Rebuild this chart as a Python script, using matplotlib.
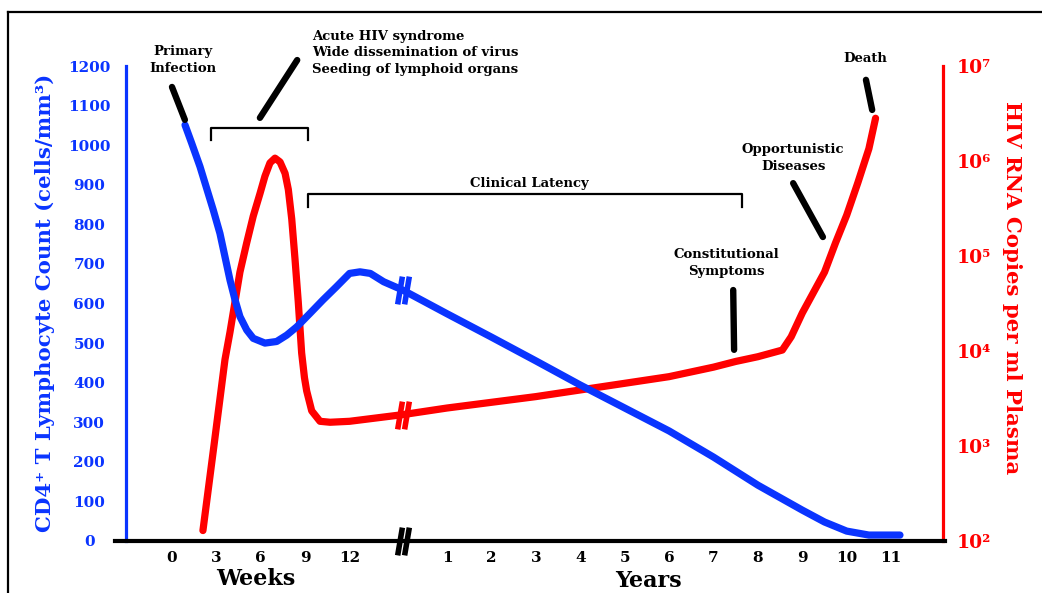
import numpy as np
import matplotlib
matplotlib.use("Agg")
import matplotlib.pyplot as plt
from matplotlib.path import Path
from matplotlib.lines import Line2D

# ---------------- data ----------------
week_ticks = [0, 3, 6, 9, 12]
year_ticks = [1, 2, 3, 4, 5, 6, 7, 8, 9, 10, 11]
cd4_ticks = [0, 100, 200, 300, 400, 500, 600, 700, 800, 900, 1000, 1100, 1200]
rna_tick_exp = [2, 3, 4, 5, 6, 7]

# CD4 count, acute phase (weeks)
cd4_weeks = [0.88, 1.33, 1.89, 2.34, 2.79, 3.24, 3.58, 3.92, 4.26, 4.59, 5.05, 5.49, 6.28,
             7.07, 7.75, 8.43, 9.32, 10.2, 11.1, 12.0, 12.7, 13.4, 14.3]
cd4_weeks_val = [1051, 1005, 946, 891, 836, 777, 718, 659, 609, 567, 533, 512, 500,
                 504, 520, 541, 575, 609, 642, 676, 680, 676, 655]
# CD4 count, chronic phase (years after break)
cd4_years = [0, 1, 2, 3, 4, 5, 6, 7, 8, 9, 9.5, 10, 10.5, 11.2]
cd4_years_val = [634, 574, 515, 455, 394, 336, 278, 212, 141, 78, 48, 25, 15, 15]

# HIV RNA (log10 copies/ml), acute phase (weeks)
rna_weeks = [2.09, 2.84, 3.58, 3.92, 4.26, 4.59, 5.05, 5.49, 5.95, 6.28, 6.62, 6.96, 7.3,
             7.64, 7.86, 8.09, 8.31, 8.53, 8.76, 8.95, 9.1, 9.44, 10.0, 10.68, 12.0]
rna_weeks_log = [2.11, 3.01, 3.91, 4.20, 4.52, 4.83, 5.14, 5.42, 5.66, 5.84, 5.98, 6.03, 5.99,
                 5.87, 5.70, 5.39, 4.97, 4.52, 3.98, 3.72, 3.58, 3.37, 3.26, 3.25, 3.26]
# HIV RNA, chronic phase (years)
rna_years = [0, 1, 2, 3, 4, 5, 6, 7, 7.5, 8, 8.55, 8.75, 9, 9.5, 9.75, 10, 10.25, 10.5, 10.65]
rna_years_log = [3.33, 3.40, 3.46, 3.52, 3.59, 3.66, 3.73, 3.83, 3.89, 3.94, 4.01, 4.15, 4.40,
                 4.83, 5.14, 5.43, 5.77, 6.13, 6.45]

# ---------------- axis mapping (weeks and years share one drawn axis) ----------------
WEEK_UNIT = 3.0       # 3 weeks per axis unit
YEAR0 = 5.196         # axis position of the break (= year 0)


def wpos(w):
    return np.asarray(w, float) / WEEK_UNIT


def ypos(y):
    return YEAR0 + np.asarray(y, float)


BLUE = "#0a34ff"
RED = "#ff0000"
FONT = "DejaVu Serif"
plt.rcParams["font.family"] = [FONT, "DejaVu Sans"]
plt.rcParams["font.weight"] = "bold"

W, H = 1042, 593
fig = plt.figure(figsize=(W / 100, H / 100), dpi=100)
ax = fig.add_axes([126 / W, (H - 541) / H, 817 / W, 475 / H])
ax2 = ax.twinx()
ax.set_zorder(ax2.get_zorder() + 1)
ax.patch.set_visible(False)

ax.set_xlim(-1.036, 17.365)
ax.set_ylim(0, 1200)
ax2.set_yscale("log")
ax2.set_ylim(1e2, 1e7)

# curves
cd4_x = np.concatenate([wpos(cd4_weeks), ypos(cd4_years)])
cd4_y = np.concatenate([cd4_weeks_val, cd4_years_val])
ax.plot(cd4_x, cd4_y, color=BLUE, lw=5.2, solid_capstyle="round", solid_joinstyle="round",
        zorder=3)

rna_x = np.concatenate([wpos(rna_weeks), ypos(rna_years)])
rna_y = np.power(10.0, np.concatenate([rna_weeks_log, rna_years_log]))
ax2.plot(rna_x, rna_y, color=RED, lw=5.2, solid_capstyle="round", solid_joinstyle="round")

# break marks
brk = Path([(-0.42, -1), (-0.08, 1), (0.08, -1), (0.42, 1)],
           [Path.MOVETO, Path.LINETO, Path.MOVETO, Path.LINETO])
ax.plot([YEAR0], [cd4_years_val[0]], marker=brk, ms=20, mec=BLUE, mew=4, ls="none", zorder=4)
ax2.plot([YEAR0], [10 ** rna_years_log[0]], marker=brk, ms=20, mec=RED, mew=4, ls="none")
ax.plot([YEAR0], [0], marker=brk, ms=20, mec="black", mew=4, ls="none", zorder=5,
        clip_on=False)

# spines
for s in ["top", "right", "bottom"]:
    ax.spines[s].set_visible(False)
ax.spines["left"].set_color(BLUE)
ax.spines["left"].set_linewidth(2.3)
for s in ["top", "left", "bottom"]:
    ax2.spines[s].set_visible(False)
ax2.spines["right"].set_color(RED)
ax2.spines["right"].set_linewidth(2.3)
ax.add_line(Line2D([-0.014, 1.003], [0, 0], transform=ax.transAxes, color="black", lw=3,
                   clip_on=False, zorder=4))

# ticks
xt = np.concatenate([wpos(week_ticks), ypos(year_ticks)])
xl = [str(v) for v in week_ticks] + [str(v) for v in year_ticks]
ax.set_xticks(xt)
ax.set_xticklabels(xl, fontsize=11, fontweight="bold", family=FONT)
ax.tick_params(axis="x", length=0, pad=7)

ax.set_yticks(cd4_ticks)
ax.set_yticklabels([str(v) for v in cd4_ticks], fontsize=11, fontweight="bold", color=BLUE,
                   family=FONT, ha="center")
ax.tick_params(axis="y", length=0, pad=26.5)

sup = str.maketrans("0123456789", "⁰¹²³⁴⁵⁶⁷⁸⁹")
ax2.set_yticks([10.0 ** e for e in rna_tick_exp])
ax2.set_yticklabels(["10" + str(e).translate(sup) for e in rna_tick_exp], fontsize=13.5,
                    fontweight="bold", color=RED, family=FONT)
ax2.yaxis.set_minor_locator(matplotlib.ticker.NullLocator())
ax2.tick_params(axis="y", length=0, pad=10)


def F(x, y):
    return (x / W, 1 - y / H)


# axis titles
fig.text(*F(45, 303), "CD4⁺ T Lymphocyte Count (cells/mm³)", rotation=90, color=BLUE,
         fontsize=15.3, fontweight="bold", ha="center", va="center", family=FONT)
fig.text(*F(1012, 288), "HIV RNA Copies per ml Plasma", rotation=270, color=RED,
         fontsize=15.3, fontweight="bold", ha="center", va="center", family=FONT)
fig.text(*F(256, 579), "Weeks", fontsize=16, fontweight="bold", ha="center", va="center",
         family=FONT)
fig.text(*F(648, 581), "Years", fontsize=16, fontweight="bold", ha="center", va="center",
         family=FONT)

# annotations (axis units: x position, CD4 scale)
AF = dict(fontsize=9.5, fontweight="bold", family=FONT, color="black", linespacing=1.45,
          clip_on=False, zorder=6)
ax.text(0.25, 1215, "Primary\nInfection", ha="center", va="center", **AF)
ax.text(3.15, 1233, "Acute HIV syndrome\nWide dissemination of virus\nSeeding of lymphoid organs",
        ha="left", va="center", **{**AF, "linespacing": 1.35})
ax.text(8.06, 904, "Clinical Latency", ha="center", va="center", **AF)
ax.text(12.48, 702, "Constitutional\nSymptoms", ha="center", va="center", **AF)
ax.text(13.99, 968, "Opportunistic\nDiseases", ha="center", va="center", **AF)
ax.text(15.61, 1220, "Death", ha="center", va="center", **AF)

pointers = [((0.0, 1147), (0.29, 1064)),
            ((2.82, 1215), (1.98, 1069)),
            ((12.64, 634), (12.66, 483)),
            ((13.99, 904), (14.66, 768)),
            ((15.63, 1165), (15.77, 1089))]
for (x0, y0), (x1, y1) in pointers:
    ax.plot([x0, x1], [y0, y1], color="black", lw=4.6, solid_capstyle="round",
            clip_on=False, zorder=6)

brackets = [(0.88, 3.06, 1043, 1013), (3.06, 12.84, 877, 844)]
for x0, x1, ytop, ybot in brackets:
    ax.plot([x0, x0, x1, x1], [ybot, ytop, ytop, ybot], color="black", lw=1.6,
            clip_on=False, zorder=6)

# figure frame
fig.add_artist(Line2D([8 / W, 1], [1 - 12 / H, 1 - 12 / H], color="black", lw=1.6))
fig.add_artist(Line2D([8 / W, 8 / W], [0, 1 - 12 / H], color="black", lw=1.6))

fig.savefig("out.png", dpi=100)
